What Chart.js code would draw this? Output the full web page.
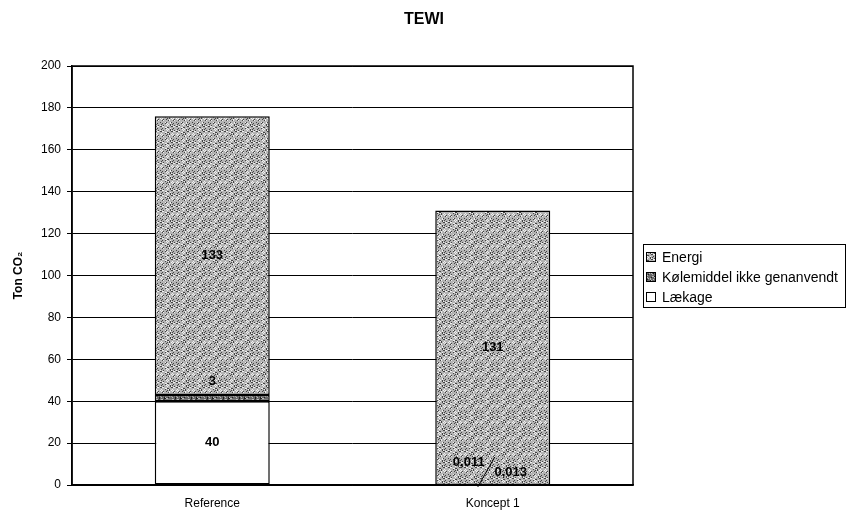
<!DOCTYPE html>
<html>
<head>
<meta charset="utf-8">
<title>TEWI</title>
<script src="https://cdn.jsdelivr.net/npm/chart.js@4.4.0/dist/chart.umd.min.js"></script>
<style>
  html, body { margin: 0; padding: 0; background: #fff; }
  #wrap { width: 848px; height: 513px; }
</style>
</head>
<body>
<div id="wrap"><canvas id="tewiChart" width="848" height="513"></canvas></div>
<script>
// Data
const categories = ['Reference', 'Koncept 1'];
const laekage = [40, 0.011];
const koelemiddel = [3, 0.013];
const energi = [133, 131];
const yTicks = [0, 20, 40, 60, 80, 100, 120, 140, 160, 180, 200];

const FONT = "'Liberation Sans', Arial, sans-serif";

// Speckled fill, like the old Excel print patterns
function stipple(base, dark, light, seed) {
  const c = document.createElement('canvas');
  c.width = 16;
  c.height = 16;
  const g = c.getContext('2d');
  g.fillStyle = base;
  g.fillRect(0, 0, 16, 16);
  for (let y = 0; y < 16; y++) {
    for (let x = 0; x < 16; x++) {
      const h = (x * 37 + y * 91 + x * y * 13 + seed) % 11;
      if (h < 2) { g.fillStyle = dark; g.fillRect(x, y, 1, 1); }
      else if (h > 8) { g.fillStyle = light; g.fillRect(x, y, 1, 1); }
    }
  }
  return g.createPattern(c, 'repeat');
}

const energiFill = stipple('#b4b4b4', '#444444', '#f0f0f0', 3);
const koelFill = stipple('#686868', '#1e1e1e', '#bcbcbc', 7);

const fmt = (v) => String(v).replace('.', ',');

// Value labels, placed from the bar elements
const labelPlugin = {
  id: 'valueLabels',
  afterDatasetsDraw(chart) {
    const ctx = chart.ctx;
    ctx.save();
    // plot frame
    const a = chart.chartArea;
    ctx.strokeStyle = '#000';
    ctx.lineWidth = 1.5;
    ctx.strokeRect(a.left, a.top, a.right - a.left, a.bottom - a.top);

    ctx.fillStyle = '#000';
    ctx.font = 'bold 13px ' + FONT;
    ctx.textAlign = 'center';
    ctx.textBaseline = 'middle';
    chart.data.datasets.forEach((ds, di) => {
      const meta = chart.getDatasetMeta(di);
      meta.data.forEach((bar, i) => {
        const v = ds.data[i];
        const mid = (bar.y + bar.base) / 2;
        if (v >= 10) {
          ctx.fillText(fmt(v), bar.x, mid);
        } else if (v >= 1) {
          ctx.fillText(fmt(v), bar.x, bar.y - 13);
        } else if (di === 0) {
          ctx.fillText(fmt(v), bar.x - 24, bar.base - 22);
        } else {
          ctx.fillText(fmt(v), bar.x + 18, bar.base - 13);
          ctx.beginPath();
          ctx.lineWidth = 1;
          ctx.moveTo(bar.x + 2, bar.base - 28);
          ctx.lineTo(bar.x - 15, bar.base + 2);
          ctx.stroke();
        }
      });
    });
    ctx.restore();
  },
  afterDraw(chart) {
    const ctx = chart.ctx;
    const a = chart.chartArea;
    ctx.save();
    // title, centred on the whole picture
    ctx.fillStyle = '#000';
    ctx.font = 'bold 16px ' + FONT;
    ctx.textAlign = 'center';
    ctx.textBaseline = 'middle';
    ctx.fillText('TEWI', chart.width / 2, 20);

    // legend box on the right, reversed order
    const x0 = a.right + 10;
    const y0 = 244;
    ctx.strokeStyle = '#000';
    ctx.lineWidth = 1;
    ctx.strokeRect(x0 + 0.5, y0 + 0.5, 202, 63);
    ctx.font = '14px ' + FONT;
    ctx.textAlign = 'left';
    const items = chart.data.datasets.slice().reverse();
    items.forEach((ds, k) => {
      const cy = y0 + 13 + k * 20;
      ctx.fillStyle = ds.backgroundColor;
      ctx.fillRect(x0 + 3, cy - 5, 10, 10);
      ctx.strokeRect(x0 + 3.5, cy - 4.5, 9, 9);
      ctx.fillStyle = '#000';
      ctx.fillText(ds.label, x0 + 19, cy + 1);
    });
    ctx.restore();
  }
};

const ctx = document.getElementById('tewiChart').getContext('2d');
const tewiChart = new Chart(ctx, {
  type: 'bar',
  data: {
    labels: categories,
    datasets: [
      { label: 'Lækage', data: laekage, backgroundColor: '#ffffff' },
      { label: 'Kølemiddel ikke genanvendt', data: koelemiddel, backgroundColor: koelFill },
      { label: 'Energi', data: energi, backgroundColor: energiFill },
    ].map((d) => Object.assign(d, {
      borderColor: '#000',
      borderWidth: 1.5,
      borderSkipped: false,
      categoryPercentage: 1,
      barPercentage: 0.41,
    })),
  },
  options: {
    responsive: false,
    animation: false,
    layout: { padding: { left: 0, right: 215, top: 66, bottom: 0 } },
    plugins: {
      legend: { display: false },
      tooltip: { enabled: false },
      title: { display: false },
    },
    scales: {
      x: {
        stacked: true,
        grid: { display: false, drawTicks: false },
        border: { display: true, color: '#000', width: 1.5 },
        ticks: { color: '#000', padding: 11, font: { family: FONT, size: 12 } },
        afterFit: (s) => { s.height = 28; },
      },
      y: {
        stacked: true,
        min: 0,
        max: 200,
        afterBuildTicks: (s) => { s.ticks = yTicks.map((v) => ({ value: v })); },
        grid: { color: '#000', lineWidth: 1, tickLength: 5 },
        border: { display: true, color: '#000', width: 1.5 },
        ticks: { color: '#000', padding: 6, font: { family: FONT, size: 12 } },
        title: {
          display: true,
          text: 'Ton CO₂',
          color: '#000',
          font: { family: FONT, size: 12, weight: 'bold' },
          padding: { top: 11, bottom: 0 },
        },
        afterFit: (s) => { s.width = 72; },
      },
    },
  },
  plugins: [labelPlugin],
});
</script>
</body>
</html>
